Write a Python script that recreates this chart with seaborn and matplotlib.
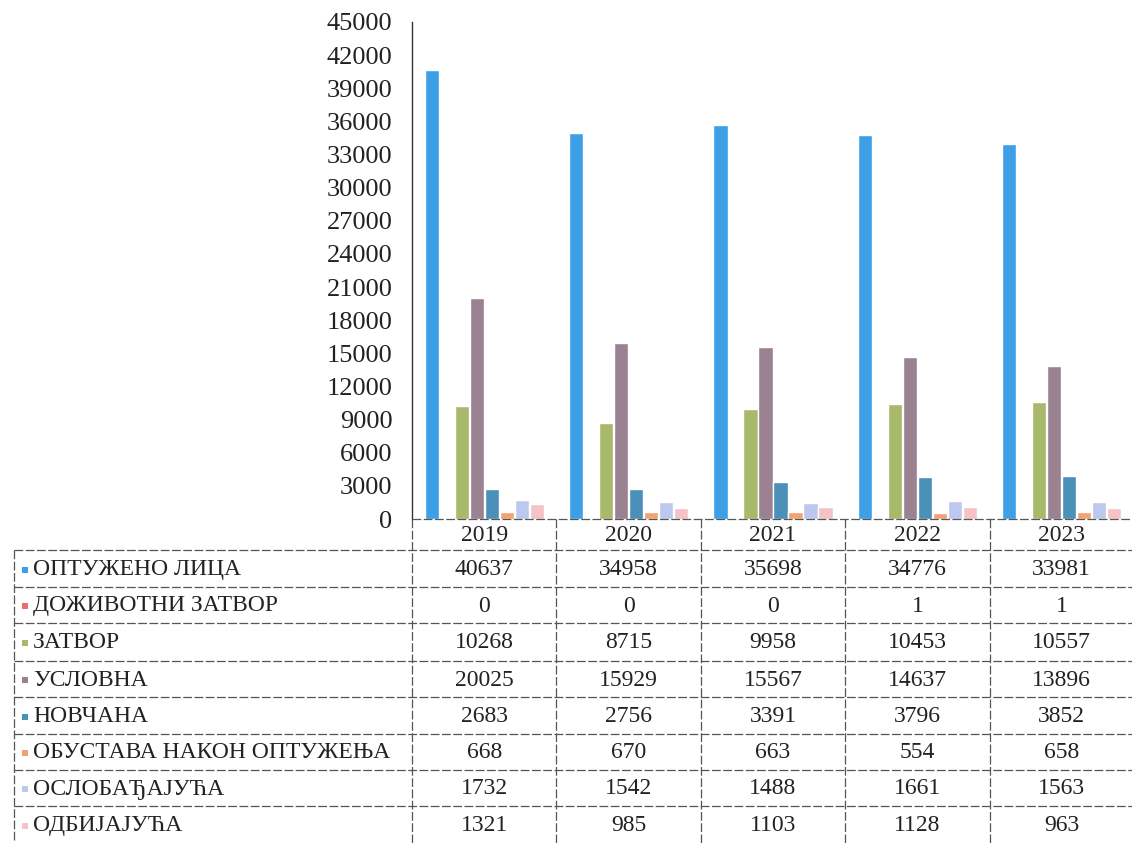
import matplotlib
matplotlib.use("Agg")
import matplotlib.pyplot as plt
import pandas as pd
import seaborn as sns

years = ["2019", "2020", "2021", "2022", "2023"]
series_names = [
    "ОПТУЖЕНО ЛИЦА",
    "ДОЖИВОТНИ ЗАТВОР",
    "ЗАТВОР",
    "УСЛОВНА",
    "НОВЧАНА",
    "ОБУСТАВА НАКОН ОПТУЖЕЊА",
    "ОСЛОБАЂАЈУЋА",
    "ОДБИЈАЈУЋА",
]
optuzeno = [40637, 34958, 35698, 34776, 33981]
dozivotni = [0, 0, 0, 1, 1]
zatvor = [10268, 8715, 9958, 10453, 10557]
uslovna = [20025, 15929, 15567, 14637, 13896]
novcana = [2683, 2756, 3391, 3796, 3852]
obustava = [668, 670, 663, 554, 658]
oslobadjajuca = [1732, 1542, 1488, 1661, 1563]
odbijajuca = [1321, 985, 1103, 1128, 963]
yticks = list(range(0, 45001, 3000))

colors = ["#3d9fe6", "#e8706a", "#a8b96c", "#9a8292", "#4a90b8",
          "#f2a272", "#bcc8ee", "#f5c2c8"]

all_values = [optuzeno, dozivotni, zatvor, uslovna, novcana,
              obustava, oslobadjajuca, odbijajuca]
rows = []
for name, vals in zip(series_names, all_values):
    for yr, v in zip(years, vals):
        rows.append({"year": yr, "series": name, "value": v})
df = pd.DataFrame(rows)

sns.set_theme(style="white")
plt.rcParams["font.family"] = ["Liberation Serif", "DejaVu Serif"]

W, H = 1132, 843
fig = plt.figure(figsize=(W / 100, H / 100), dpi=100)

left_px, right_px, top_px, bottom_px = 412, 1134, 22, 519
ax = fig.add_axes([left_px / W, 1 - bottom_px / H,
                   (right_px - left_px) / W, (bottom_px - top_px) / H])
sns.barplot(data=df, x="year", y="value", hue="series", hue_order=series_names,
            palette=colors, width=0.83, gap=0.05, ax=ax, legend=False,
            saturation=1)
ax.set_ylim(0, 45000)
ax.set_xlim(-0.5, 4.5)
ax.set_yticks(yticks)
ax.set_yticklabels([str(t) for t in yticks], fontsize=19, color="#222222")
ax.tick_params(axis="y", length=0, pad=14)
ax.set_xticks([])
ax.set_xlabel("")
ax.set_ylabel("")
for s in ["top", "right", "bottom"]:
    ax.spines[s].set_visible(False)
ax.spines["left"].set_color("#333333")
ax.spines["left"].set_linewidth(1.0)

# table drawn in pixel coordinates
tab = fig.add_axes([0, 0, 1, 1])
tab.set_xlim(0, W)
tab.set_ylim(H, 0)
tab.axis("off")

col_w = (right_px - left_px) / 5
col_edges = [left_px + i * col_w for i in range(6)]
header_top, header_bot = 519, 550
row_edges = [550, 587, 623, 661, 697, 734, 770, 806, 843]
line_kw = dict(color="#555555", lw=0.9, linestyle=(0, (7, 2)))

tab.plot([left_px, right_px], [header_top, header_top], **line_kw)
tab.plot([14, right_px], [header_bot, header_bot], **line_kw)
for y in row_edges[1:-1]:
    tab.plot([14, right_px], [y, y], **line_kw)
for x in col_edges:
    tab.plot([x, x], [header_top, H], **line_kw)
tab.plot([14, 14], [header_bot, H], **line_kw)

for i, yr in enumerate(years):
    cx = (col_edges[i] + col_edges[i + 1]) / 2
    tab.text(cx, (header_top + header_bot) / 2 + 1, yr, ha="center",
             va="center", fontsize=17, color="#222222")

for r, (name, vals, c) in enumerate(zip(series_names, all_values, colors)):
    cy = (row_edges[r] + row_edges[r + 1]) / 2 + 1
    tab.scatter([25], [cy], marker="s", s=24, color=c, linewidths=0)
    tab.text(33, cy, name, ha="left", va="center", fontsize=17, color="#222222")
    for i, v in enumerate(vals):
        cx = (col_edges[i] + col_edges[i + 1]) / 2
        tab.text(cx, cy, str(v), ha="center", va="center", fontsize=17,
                 color="#222222")

fig.savefig("out.png", dpi=100)
